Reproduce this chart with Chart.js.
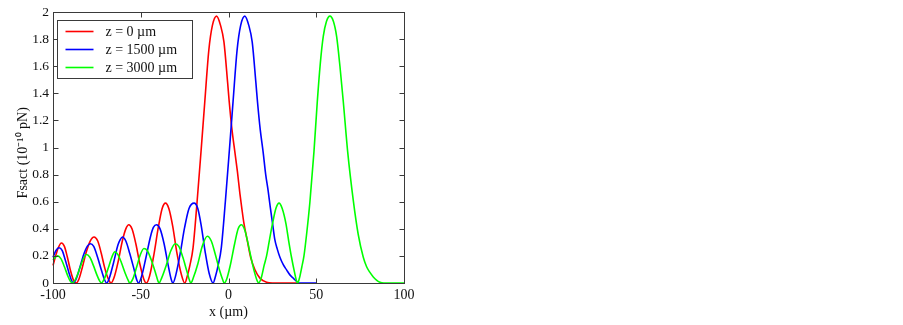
<!DOCTYPE html>
<html>
<head>
<meta charset="utf-8">
<script src="https://cdn.jsdelivr.net/npm/chart.js@4.4.1/dist/chart.umd.min.js"></script>
<style>
  html, body { margin: 0; padding: 0; background: #fff; }
  #wrap { width: 903px; height: 325px; }
</style>
</head>
<body>
<div id="wrap"><canvas id="c" width="903" height="325"></canvas></div>
<script>
// ---- data ----
const seriesLabels = ['z = 0 \u00b5m', 'z = 1500 \u00b5m', 'z = 3000 \u00b5m'];
const seriesColors = ['#ff0000', '#0000ff', '#00ff00'];

const xTicks = [-100, -50, 0, 50, 100];
const xTickLabels = ['-100', '-50', '0', '50', '100'];
const yTicks = [0, 0.2, 0.4, 0.6, 0.8, 1, 1.2, 1.4, 1.6, 1.8, 2];
const yTickLabels = ['0', '0.2', '0.4', '0.6', '0.8', '1', '1.2', '1.4', '1.6', '1.8', '2'];

const xTitle = 'x (\u00b5m)';
const yTitle = 'Fsact (10\u207b\u00b9\u2070 pN)   ';

// z = 0 um  [x, Fsact]
const redPoints = [
  [-100,0.13],[-98.5,0.2],[-97,0.26],[-95.2,0.295],[-93.5,0.27],[-91.8,0.19],[-90,0.09],[-88.3,0.02],[-86.8,0],
  [-85.2,0.03],[-83.2,0.12],[-81,0.23],[-78.8,0.31],[-76.6,0.34],[-74.5,0.31],[-72.5,0.22],[-70.5,0.11],[-68.5,0.03],[-66.9,0],
  [-65.2,0.04],[-63,0.15],[-60.5,0.31],[-58.5,0.4],[-56.8,0.43],[-55,0.4],[-52.8,0.29],[-50.5,0.14],[-48.3,0.03],[-46.8,0],
  [-45,0.05],[-42.5,0.21],[-40,0.41],[-37.8,0.55],[-35.9,0.59],[-34,0.55],[-31.8,0.42],[-29.5,0.23],[-27,0.07],[-24.9,0],
  [-23.5,0.05],[-22,0.13],[-20.2,0.26],[-17.9,0.6],[-15.6,0.98],[-13.5,1.34],[-11.2,1.72],[-9.2,1.9],[-6.8,1.97],
  [-4.5,1.9],[-2.6,1.78],[-0.5,1.48],[0.4,1.34],[2,1.13],[3.6,0.97],[5.1,0.82],[6.5,0.66],[7.7,0.54],[8.8,0.44],
  [10.6,0.32],[12.6,0.19],[15,0.1],[17.9,0.036],[21.7,0.005],[25,0],[40,0]
];

// z = 1500 um
const bluePoints = [
  [-100,0.19],[-98.3,0.24],[-96.6,0.26],[-94.8,0.24],[-93,0.17],[-91,0.08],[-89.5,0.02],[-88.3,0],
  [-86.8,0.03],[-84.8,0.11],[-82.5,0.21],[-80.5,0.27],[-78.7,0.29],[-76.8,0.27],[-74.6,0.19],[-72.3,0.09],[-70.5,0.02],[-69.4,0],
  [-67.8,0.04],[-65.5,0.15],[-63,0.28],[-61.7,0.32],[-60.4,0.34],[-58.5,0.31],[-56.3,0.22],[-54,0.11],[-52.2,0.02],[-51.3,0],
  [-49.5,0.05],[-47,0.19],[-44.5,0.34],[-42.8,0.41],[-41,0.43],[-39,0.4],[-36.7,0.29],[-34.5,0.14],[-32.7,0.03],[-31.7,0],
  [-30,0.06],[-27.5,0.22],[-25,0.41],[-22.5,0.55],[-19.6,0.59],[-17.5,0.55],[-15.5,0.42],[-13.3,0.23],[-11,0.07],[-8.8,0],
  [-7.4,0.05],[-5.9,0.13],[-4.1,0.26],[-1.8,0.6],[0.5,0.98],[2.6,1.34],[4.9,1.72],[6.9,1.9],[9.3,1.97],
  [11.6,1.9],[13.5,1.78],[15.6,1.48],[16.5,1.34],[18.1,1.13],[19.7,0.97],[21.2,0.8],[22.6,0.68],[23.8,0.56],[25.1,0.44],
  [26.4,0.32],[27.8,0.25],[29.3,0.19],[31.2,0.135],[33.1,0.097],[35,0.06],[36.9,0.036],[38.5,0.015],[40.3,0],[50,0]
];

// z = 3000 um
const greenPoints = [
  [-100,0.17],[-97.5,0.2],[-95.5,0.18],[-93.5,0.12],[-91.5,0.05],[-90,0.01],[-89,0],
  [-87.5,0.02],[-85.5,0.08],[-83,0.17],[-81,0.21],[-79,0.19],[-77,0.13],[-75,0.06],[-73.2,0.01],[-72.4,0],
  [-70.8,0.03],[-68.5,0.11],[-66.5,0.19],[-64.8,0.23],[-63,0.21],[-61,0.15],[-58.8,0.07],[-57,0.015],[-56.3,0],
  [-54.5,0.03],[-52.3,0.12],[-50.2,0.21],[-48.2,0.255],[-46.3,0.24],[-44,0.17],[-41.7,0.08],[-40.2,0.015],[-39.6,0],
  [-38,0.04],[-35.5,0.13],[-32.8,0.24],[-30.4,0.29],[-28.3,0.27],[-26,0.19],[-23.8,0.09],[-22.1,0.015],[-21.5,0],
  [-20,0.04],[-17.5,0.14],[-15,0.27],[-12.1,0.345],[-9.8,0.31],[-7.5,0.21],[-5,0.09],[-3.2,0.02],[-2.5,0],
  [-1,0.03],[1,0.13],[3.5,0.29],[5.5,0.4],[7.3,0.43],[9.3,0.39],[11,0.3],[12.8,0.19],[14.8,0.08],[16.4,0.015],[17.2,0],
  [18.7,0.04],[20.3,0.13],[21.7,0.2],[23.5,0.33],[25.1,0.44],[27,0.55],[28.8,0.59],[30.6,0.55],[32.7,0.44],[34.3,0.31],
  [35.9,0.19],[37.6,0.08],[38.8,0.015],[39.4,0],
  [40.5,0.04],[41.8,0.12],[43,0.2],[44.5,0.36],[46.4,0.6],[48.7,0.97],[50.6,1.34],[52.3,1.62],[54,1.82],[55.8,1.93],
  [57.8,1.97],[59.8,1.93],[61.6,1.82],[63.5,1.6],[65.4,1.34],[67.9,0.97],[71.1,0.61],[73.9,0.36],[76.8,0.19],[78.7,0.12],
  [80.5,0.08],[82.5,0.045],[84.5,0.02],[86.3,0.005],[88.5,0],[100,0]
];

const allSeries = [redPoints, bluePoints, greenPoints];

// ---- chart ----
const FONT = '"Liberation Serif", "Times New Roman", serif';
const TEXT = '#111';
const FRAME = '#3a3a3a';

const framePlugin = {
  id: 'frameTicks',
  afterDatasetsDraw(chart) {
    const { ctx, chartArea: a, scales } = chart;
    ctx.save();
    ctx.strokeStyle = FRAME;
    ctx.lineWidth = 1;
    const L = Math.round(a.left) + 0.5, R = Math.round(a.right) + 0.5;
    const T = Math.round(a.top) + 0.5, B = Math.round(a.bottom) + 0.5;
    ctx.strokeRect(L, T, R - L, B - T);
    const tl = 5;
    ctx.beginPath();
    scales.x.ticks.forEach(t => {
      const px = Math.round(scales.x.getPixelForValue(t.value)) + 0.5;
      ctx.moveTo(px, B); ctx.lineTo(px, B - tl);
      ctx.moveTo(px, T); ctx.lineTo(px, T + tl);
    });
    scales.y.ticks.forEach(t => {
      const py = Math.round(scales.y.getPixelForValue(t.value)) + 0.5;
      ctx.moveTo(L, py); ctx.lineTo(L + tl, py);
      ctx.moveTo(R, py); ctx.lineTo(R - tl, py);
    });
    ctx.stroke();

    // legend box inside the plot (top-left)
    const bx = L + 4, by = T + 8, bw = 135, bh = 58;
    ctx.fillStyle = '#fff';
    ctx.fillRect(bx, by, bw, bh);
    ctx.strokeStyle = FRAME;
    ctx.strokeRect(bx, by, bw, bh);
    ctx.font = '14px ' + FONT;
    ctx.textBaseline = 'middle';
    ctx.textAlign = 'left';
    chart.data.datasets.forEach((ds, i) => {
      const y = by + 11 + i * 18;
      ctx.strokeStyle = ds.borderColor;
      ctx.lineWidth = 1.6;
      ctx.beginPath();
      ctx.moveTo(bx + 8, y); ctx.lineTo(bx + 36, y);
      ctx.stroke();
      ctx.fillStyle = TEXT;
      ctx.fillText(ds.label, bx + 48, y + 1);
    });
    ctx.restore();
  }
};

new Chart(document.getElementById('c'), {
  type: 'line',
  data: {
    datasets: allSeries.map((pts, i) => ({
      label: seriesLabels[i],
      data: pts.map(p => ({ x: p[0], y: p[1] })),
      borderColor: seriesColors[i],
      backgroundColor: seriesColors[i],
      borderWidth: 1.6,
      pointRadius: 0,
      fill: false,
      cubicInterpolationMode: 'monotone',
      clip: 3,
      order: 2 - i
    }))
  },
  options: {
    responsive: false,
    animation: false,
    devicePixelRatio: 1,
    layout: { padding: { left: 0, right: 499, top: 9, bottom: 0 } },
    plugins: { legend: { display: false }, tooltip: { enabled: false } },
    scales: {
      x: {
        type: 'linear',
        min: -100, max: 100,
        afterBuildTicks: s => { s.ticks = xTicks.map(v => ({ value: v })); },
        afterFit: s => { s.height = 42; },
        grid: { display: false, drawTicks: false },
        border: { display: false },
        ticks: {
          padding: 4,
          color: TEXT,
          font: { family: FONT, size: 14 },
          maxRotation: 0,
          callback: (v, i) => xTickLabels[i]
        },
        title: {
          display: true, text: xTitle, color: TEXT,
          font: { family: FONT, size: 14 },
          padding: { top: 0, bottom: 4 }
        }
      },
      y: {
        type: 'linear',
        min: 0, max: 2,
        afterBuildTicks: s => { s.ticks = yTicks.map(v => ({ value: v })); },
        afterFit: s => { s.width = 53; },
        grid: { display: false, drawTicks: false },
        border: { display: false },
        ticks: {
          padding: 4,
          color: TEXT,
          font: { family: FONT, size: 13.5 },
          callback: (v, i) => yTickLabels[i]
        },
        title: {
          display: true, text: yTitle, color: TEXT,
          font: { family: FONT, size: 14 },
          padding: { top: 15, bottom: 0 }
        }
      }
    }
  },
  plugins: [framePlugin]
});
</script>
</body>
</html>
